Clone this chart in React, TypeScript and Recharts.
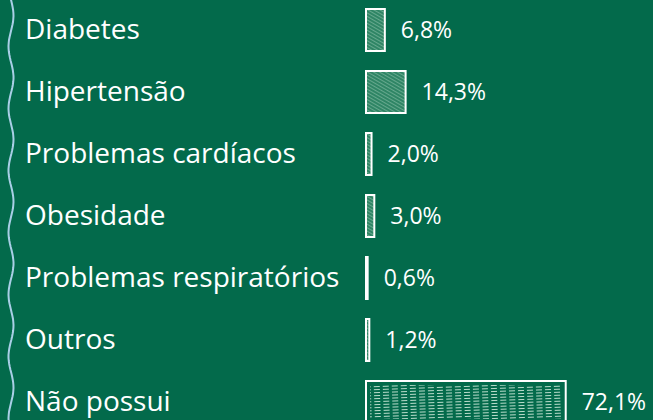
import { BarChart, Bar, XAxis, YAxis, LabelList } from 'recharts';

const categories = [
  'Diabetes',
  'Hipertensão',
  'Problemas cardíacos',
  'Obesidade',
  'Problemas respiratórios',
  'Outros',
  'Não possui',
];
const values = [6.8, 14.3, 2.0, 3.0, 0.6, 1.2, 72.1];
const valueLabels = ['6,8%', '14,3%', '2,0%', '3,0%', '0,6%', '1,2%', '72,1%'];

const data = categories.map((name, i) => ({ name, value: values[i], label: valueLabels[i] }));

const BG = '#036a4b';
const FONT = '"Open Sans", Lato, sans-serif';

function CategoryTick({ y, payload }: any) {
  return (
    <text x={25} y={y} dy={9} fill="#fff" fontSize={28} fontFamily={FONT}>
      {payload.value}
    </text>
  );
}

function SketchBar(props: any) {
  const { x, y, width, height } = props;
  const wide = width > 100;
  return (
    <g>
      {wide ? (
        <rect x={x + 4} y={y + 4} width={Math.max(width - 8, 0)} height={height - 8} fill="url(#hatchH)" />
      ) : (
        <rect x={x} y={y} width={width} height={height} fill="url(#hatchD)" />
      )}
      <rect x={x} y={y} width={width} height={height} fill="none" stroke="#fff" strokeWidth={2} />
    </g>
  );
}

// decorative wavy line on the left edge
function wavePath() {
  let d = '';
  for (let yy = -5; yy <= 425; yy += 3) {
    const xx = 11 + 2.5 * Math.sin((yy / 62) * 2 * Math.PI);
    d += (d ? ' L ' : 'M ') + xx.toFixed(1) + ' ' + yy;
  }
  return d;
}

export default function App() {
  return (
    <div style={{ position: 'relative', width: 653, height: 420, overflow: 'hidden', background: BG }}>
      <style>{'body{margin:0}'}</style>
      <svg width={30} height={420} style={{ position: 'absolute', left: 0, top: 0 }}>
        <path d={wavePath()} stroke="#a9cfe6" strokeWidth={2} fill="none" />
      </svg>
      <div style={{ position: 'absolute', left: 0, top: -1 }}>
        <BarChart
          width={653}
          height={434}
          data={data}
          layout="vertical"
          margin={{ top: 0, right: 10, left: 0, bottom: 0 }}
        >
          <defs>
            <pattern id="hatchD" width="3" height="3" patternUnits="userSpaceOnUse" patternTransform="rotate(-60)">
              <rect width="3" height="3" fill="#2f8565" />
              <line x1="0" y1="0" x2="0" y2="3" stroke="#9acbb4" strokeWidth="1" />
            </pattern>
            <pattern id="hatchH" width="9" height="3" patternUnits="userSpaceOnUse" patternTransform="rotate(-2)">
              <line x1="0" y1="1.5" x2="6" y2="1.5" stroke="#b9dccb" strokeWidth="1" />
            </pattern>
          </defs>
          <XAxis type="number" domain={[0, 100]} hide />
          <YAxis
            type="category"
            dataKey="name"
            width={366}
            axisLine={false}
            tickLine={false}
            tick={<CategoryTick />}
          />
          <Bar dataKey="value" barSize={42} shape={<SketchBar />} isAnimationActive={false}>
            <LabelList dataKey="label" position="right" offset={16} fill="#fff" fontSize={23} fontFamily={FONT} />
          </Bar>
        </BarChart>
      </div>
    </div>
  );
}
